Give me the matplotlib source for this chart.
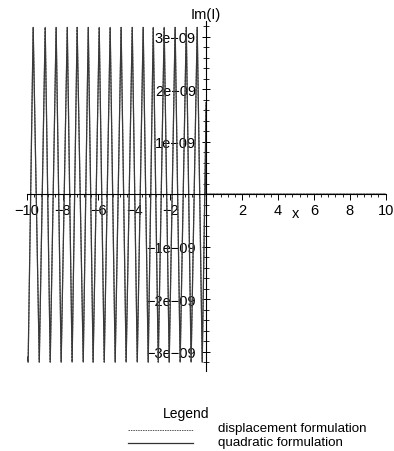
import numpy as np
import matplotlib
matplotlib.use("Agg")
import matplotlib.pyplot as plt
from matplotlib.lines import Line2D
from matplotlib.ticker import FixedLocator, FixedFormatter, MultipleLocator

plt.rcParams["font.family"] = ["Liberation Sans", "DejaVu Sans"]

# -----------------------------------
# Data
# -----------------------------------

peak_x = [-9.64, -8.97, -8.36, -7.74, -7.19, -6.57, -5.96, -5.35,
          -4.74, -4.12, -3.51, -2.95, -2.34, -1.73, -1.11, -0.50]
peak_y = 3.18e-9

trough_x = [-9.92, -9.30, -8.69, -8.08, -7.47, -6.85, -6.30, -5.68, -5.07,
            -4.46, -3.84, -3.23, -2.67, -2.06, -1.45, -0.84, -0.22]
trough_y = -3.20e-9

start_pt = (-10.0, -3.10e-9)
tail_x = [0.0, 0.0, 10.0]
tail_y = [1.75e-9, 0.0, 0.0]

x_ticks = [-10, -8, -6, -4, -2, 2, 4, 6, 8, 10]
x_labels = ["\u221210", "\u22128", "\u22126", "\u22124", "\u22122", "2", "4", "6", "8", "10"]
y_ticks = [-3e-9, -2e-9, -1e-9, 1e-9, 2e-9, 3e-9]
y_labels = ["\u22123e\u221209", "\u22122e\u221209", "\u22121e\u221209",
            "1e\u221209", "2e\u221209", "3e\u221209"]

legend_names = ["displacement formulation", "quadratic formulation"]

# -----------------------------------
# Build curve
# -----------------------------------

pts = [(x, peak_y) for x in peak_x] + [(x, trough_y) for x in trough_x]
pts.sort()
xs = [start_pt[0]] + [p[0] for p in pts] + tail_x
ys = [start_pt[1]] + [p[1] for p in pts] + tail_y

# -----------------------------------
# Plot
# -----------------------------------

fig = plt.figure(figsize=(3.94, 4.52), dpi=100)
ax = fig.add_axes([0.0678, 0.177, 0.911, 0.774])

ax.plot(xs, ys, color="#555555", lw=0.8, ls=(0, (2, 1)))
ax.plot(xs, ys, color="#3a3a3a", lw=0.9)

ax.set_xlim(-10, 10)
ax.set_ylim(-3.37e-9, 3.30e-9)

for s in ["top", "right"]:
    ax.spines[s].set_visible(False)
ax.spines["left"].set_position(("data", 0))
ax.spines["bottom"].set_position(("data", 0))
ax.spines["left"].set_linewidth(0.8)
ax.spines["bottom"].set_linewidth(0.8)

ax.xaxis.set_major_locator(FixedLocator(x_ticks))
ax.xaxis.set_major_formatter(FixedFormatter(x_labels))
ax.xaxis.set_minor_locator(MultipleLocator(0.4))
ax.yaxis.set_major_locator(FixedLocator(y_ticks))
ax.yaxis.set_major_formatter(FixedFormatter(y_labels))
ax.yaxis.set_minor_locator(MultipleLocator(0.2e-9))

ax.tick_params(axis="x", which="major", direction="out", length=4, width=0.7,
               labelsize=10.5, pad=2)
ax.tick_params(axis="x", which="minor", direction="out", length=2, width=0.6)
ax.tick_params(axis="y", which="major", direction="inout", length=6, width=0.7,
               labelsize=10.5, pad=4.3)
ax.tick_params(axis="y", which="minor", direction="inout", length=4, width=0.6)

ax.set_facecolor("none")

fig.text(206 / 394, 1 - 15 / 452, "Im(I)", ha="center", va="center", fontsize=10.5)
ax.text(4.96, -0.35e-9, "x", ha="center", va="center", fontsize=10.5)

# -----------------------------------
# Legend (Maple style)
# -----------------------------------

fig.text(186 / 394, 1 - 414 / 452, "Legend", ha="center", va="center", fontsize=10)
fig.add_artist(Line2D([128 / 394, 193 / 394], [1 - 431 / 452] * 2,
                      color="#555555", lw=0.7, ls=(0, (1.5, 1))))
fig.add_artist(Line2D([128 / 394, 193 / 394], [1 - 444 / 452] * 2,
                      color="#333333", lw=0.9))
fig.text(218 / 394, 1 - 429 / 452, legend_names[0], ha="left", va="center", fontsize=9.6)
fig.text(218 / 394, 1 - 443 / 452, legend_names[1], ha="left", va="center", fontsize=9.6)

plt.savefig("out.png", dpi=100)
